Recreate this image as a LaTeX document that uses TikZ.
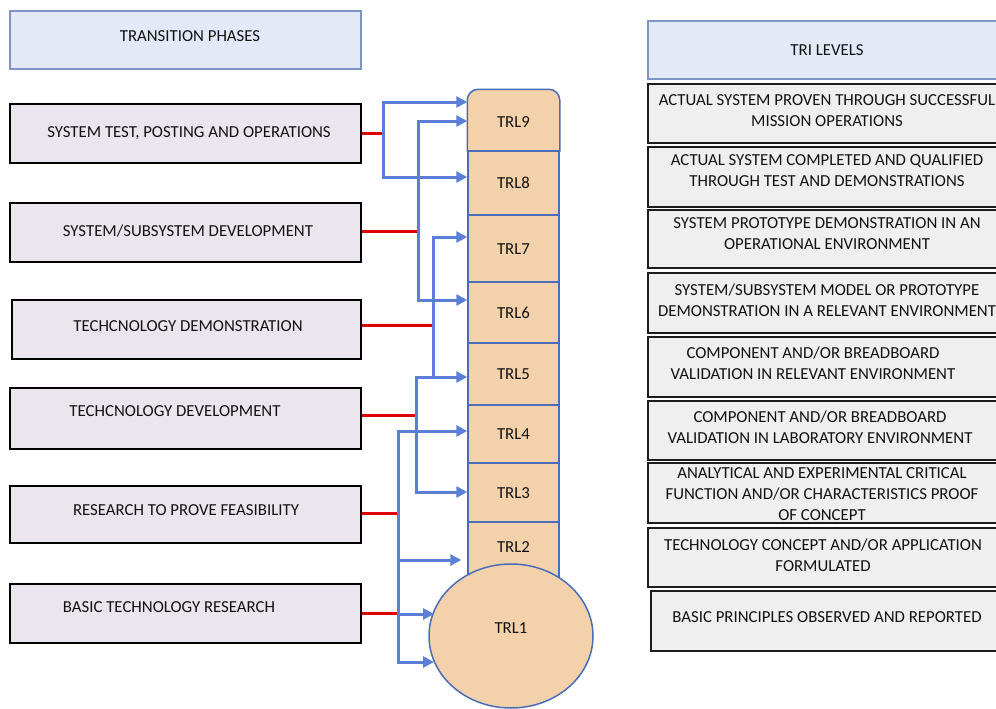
\documentclass[tikz,border=0pt]{standalone}
\usepackage{fontspec}
\setmainfont{Carlito}
\usetikzlibrary{arrows.meta,shapes.geometric}
\definecolor{hdrfill}{HTML}{E4E9F7}
\definecolor{hdrline}{HTML}{7F95C6}
\definecolor{phfill}{HTML}{EBE6EE}
\definecolor{lvfill}{HTML}{EFEFEF}
\definecolor{lvline}{HTML}{1C1C1C}
\definecolor{trlfill}{HTML}{F3D1AA}
\definecolor{trlline}{HTML}{4A6DB8}
\definecolor{arrblue}{HTML}{5B7FD6}
\definecolor{linkred}{HTML}{E00000}
\definecolor{txt}{HTML}{121212}
\begin{document}
\begin{tikzpicture}[x=1pt,y=-1pt,
  >={Triangle[length=11pt,width=11pt]},
  txtfont/.style={font=\fontsize{16.8}{21}\selectfont, text=txt},
  hdr/.style={draw=hdrline, line width=1.2pt, fill=hdrfill, inner sep=0pt},
  phase/.style={draw=black, line width=2pt, fill=phfill, inner sep=0pt, minimum width=351pt},
  level/.style={draw=lvline, line width=2.6pt, fill=lvfill, inner sep=0pt, minimum width=362pt},
  lbl/.style={txtfont, inner sep=0pt, align=center},
  trl/.style={draw=trlline, line width=1.5pt, fill=trlfill, minimum width=91pt, inner sep=0pt, txtfont, text height=11pt, text depth=0pt},
  link/.style={draw=linkred, line width=3pt},
  flow/.style={draw=arrblue, line width=3pt}]
\useasboundingbox (0,0) rectangle (996,709);
\clip (0,0) rectangle (996,709);
\fill[white] (0,0) rectangle (996,709);

% left column
\node[hdr, minimum width=351pt, minimum height=58pt] (tphdr) at (185.5,40) {};
\node[lbl] (tphdrt) at (190,36) {TRANSITION PHASES};

\node[phase, minimum height=59pt] (p1) at (185.5,133.5) {};
\node[lbl] (p1t) at (189,133) {SYSTEM TEST, POSTING AND OPERATIONS};
\node[phase, minimum height=59pt] (p2) at (185.5,232.5) {};
\node[lbl] (p2t) at (188,231) {SYSTEM/SUBSYSTEM DEVELOPMENT};
\node[phase, minimum height=59pt, minimum width=349pt] (p3) at (186.5,329.5) {};
\node[lbl] (p3t) at (188,326) {TECHCNOLOGY DEMONSTRATION};
\node[phase, minimum height=61pt] (p4) at (185.5,418.5) {};
\node[lbl] (p4t) at (175,411) {TECHCNOLOGY DEVELOPMENT};
\node[phase, minimum height=57pt] (p5) at (185.5,514.5) {};
\node[lbl] (p5t) at (186,510) {RESEARCH TO PROVE FEASIBILITY};
\node[phase, minimum height=59pt] (p6) at (185.5,613.5) {};
\node[lbl] (p6t) at (169,607) {BASIC TECHNOLOGY RESEARCH};

% right column
\node[hdr, minimum width=362pt, minimum height=58pt] (tlhdr) at (829,50) {};
\node[lbl] (tlhdrt) at (827,50) {TRI LEVELS};

\node[level, minimum height=59pt] (r1) at (829,113.5) {};
\node[lbl] (r1t) at (827,110.5) {ACTUAL SYSTEM PROVEN THROUGH SUCCESSFUL\\MISSION OPERATIONS};
\node[level, minimum height=60pt] (r2) at (829,177) {};
\node[lbl] (r2t) at (827,170.5) {ACTUAL SYSTEM COMPLETED AND QUALIFIED\\THROUGH TEST AND DEMONSTRATIONS};
\node[level, minimum height=58pt] (r3) at (829,239) {};
\node[lbl] (r3t) at (827,234) {SYSTEM PROTOTYPE DEMONSTRATION IN AN\\OPERATIONAL ENVIRONMENT};
\node[level, minimum height=60pt] (r4) at (829,303) {};
\node[lbl] (r4t) at (827,300.5) {SYSTEM/SUBSYSTEM MODEL OR PROTOTYPE\\DEMONSTRATION IN A RELEVANT ENVIRONMENT};
\node[level, minimum height=60pt] (r5) at (829,367) {};
\node[lbl] (r5t) at (813,363) {COMPONENT AND/OR BREADBOARD\\VALIDATION IN RELEVANT ENVIRONMENT};
\node[level, minimum height=59pt] (r6) at (829,430.5) {};
\node[lbl] (r6t) at (820,427) {COMPONENT AND/OR BREADBOARD\\VALIDATION IN LABORATORY ENVIRONMENT};
\node[level, minimum height=60pt] (r7) at (829,493) {};
\node[lbl] (r7t) at (822,494) {ANALYTICAL AND EXPERIMENTAL CRITICAL\\FUNCTION AND/OR CHARACTERISTICS PROOF\\OF CONCEPT};
\node[level, minimum height=59pt] (r8) at (829,557.5) {};
\node[lbl] (r8t) at (823,555) {TECHNOLOGY CONCEPT AND/OR APPLICATION\\FORMULATED};
\node[level, minimum height=60pt, minimum width=359pt] (r9) at (830.5,621) {};
\node[lbl] (r9t) at (827,617) {BASIC PRINCIPLES OBSERVED AND REPORTED};

% TRL column
\node[trl, draw=none, fill=none, minimum height=61pt] (trl9) at (513.5,120.5) {};
\path[draw=trlline, line width=1.5pt, fill=trlfill, rounded corners=11pt]
  (trl9.south west) -- (trl9.north west) -- (trl9.north east) -- (trl9.south east);
\node[txtfont, inner sep=0pt] (trl9t) at (513.5,122) {TRL9};
\node[trl, minimum height=64pt] (trl8) at (513.5,183) {TRL8};
\node[trl, minimum height=67pt] (trl7) at (513.5,248.5) {TRL7};
\node[trl, minimum height=61pt] (trl6) at (513.5,312.5) {TRL6};
\node[trl, minimum height=62pt] (trl5) at (513.5,374) {TRL5};
\node[trl, minimum height=58pt] (trl4) at (513.5,434) {TRL4};
\node[trl, minimum height=59pt] (trl3) at (513.5,492.5) {TRL3};
\node[trl, minimum height=58pt, text depth=8pt] (trl2) at (513.5,551) {TRL2};
\node[trl, ellipse, minimum width=164pt, minimum height=144pt, text depth=16pt] (trl1) at (511,636) {TRL1};

% junction points
\coordinate (a1) at (383,102);
\coordinate (a2) at (383,177);
\coordinate (a3) at (383,133);
\coordinate (b1) at (418,121);
\coordinate (b2) at (418,300);
\coordinate (b3) at (418,231);
\coordinate (c1) at (433,237);
\coordinate (c2) at (433,377);
\coordinate (c3) at (433,325);
\coordinate (d1) at (416,377);
\coordinate (d2) at (416,492);
\coordinate (d3) at (416,415);
\coordinate (e1) at (398,431);
\coordinate (e2) at (398,662);
\coordinate (e3) at (398,560);
\coordinate (e4) at (398,614);
\coordinate (e5) at (398,513);
\coordinate (e6) at (398,613);
\coordinate (t1a) at (434,614);
\coordinate (t1b) at (434,662);

% red links
\draw[link] (p1.east |- a3) -- (a3);
\draw[link] (p2.east |- b3) -- (b3);
\draw[link] (p3.east |- c3) -- (c3);
\draw[link] (p4.east |- d3) -- (d3);
\draw[link] (p5.east |- e5) -- (e5);
\draw[link] (p6.east |- e6) -- (e6);

% blue arrows
\draw[flow,<->] (trl9.west |- a1) -- (a1) -- (a2) -- (trl8.west |- a2);
\draw[flow,<->] (trl9.west |- b1) -- (b1) -- (b2) -- (trl6.west |- b2);
\draw[flow,->] (c2) -- (c1) -- (trl7.west |- c1);
\draw[flow,<->] (trl5.west |- d1) -- (d1) -- (d2) -- (trl3.west |- d2);
\draw[flow,<->] (trl4.west |- e1) -- (e1) -- (e2) -- (t1b);
\draw[flow,->,shorten >=6pt] (e3) -- (trl2.west |- e3);
\draw[flow,->] (e4) -- (t1a);
\end{tikzpicture}
\end{document}
